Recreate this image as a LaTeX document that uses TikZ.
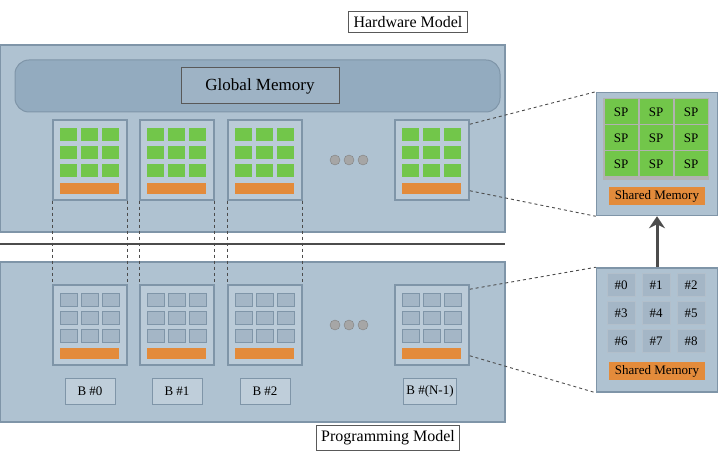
\documentclass[tikz,border=0pt]{standalone}
\usepackage{fontspec}
\setmainfont{Liberation Serif}
\usetikzlibrary{arrows.meta}
\definecolor{panel}{HTML}{AFC2D1}
\definecolor{edge}{HTML}{7F95A8}
\definecolor{bar}{HTML}{93ABBF}
\definecolor{grn}{HTML}{72C64A}
\definecolor{org}{HTML}{E38B3B}
\definecolor{cell}{HTML}{A4B6C6}
\tikzset{
 panel/.style={fill=panel,draw=edge,line width=1.2pt},
 lbl/.style={draw=gray!70!black,fill=white,line width=0.8pt,font=\fontsize{16}{18}\selectfont,inner sep=5pt},
 blk/.style={draw=edge,fill=panel!85!white,line width=1.5pt,minimum width=74pt,minimum height=80pt},
 dline/.style={gray!60!black,dashed,line width=0.9pt},
}
\begin{document}
\begin{tikzpicture}[x=1pt,y=-1pt,font=\fontsize{13}{15}\selectfont]
\useasboundingbox (0,0) rectangle (725,462);
% panels
\draw[panel] (0,45) rectangle (505,232);
\draw[fill=bar,draw=edge,line width=1pt,rounded corners=14pt] (15,60) rectangle (500,112);
\node[draw=gray!70!black,fill=bar!90!white,line width=1pt,font=\fontsize{17}{19}\selectfont,minimum width=158pt,minimum height=36pt] (gm) at (260,86) {Global Memory};
\node[lbl] (hw) at (408,22) {Hardware Model};
\draw[gray!60!black,line width=1.2pt] (0,244) -- (505,244);
\draw[panel] (0,262) rectangle (505,422);
\node[lbl] (pm) at (388,438) {Programming Model};
% blocks
\foreach \n/\x in {0/90,1/177,2/265,3/432}{
  \node[blk] (t\n) at (\x,160) {};
  \node[blk] (b\n) at (\x,325) {};
  \foreach \i in {0,1,2}{\foreach \j in {0,1,2}{
    \fill[grn] (\x-30+\i*21,128+\j*18) rectangle ++(17,13);
    \fill[cell,draw=edge] (\x-30+\i*21,293+\j*18) rectangle ++(17,13);
  }}
  \fill[org] (\x-30,183) rectangle ++(59,11);
  \fill[org] (\x-30,348) rectangle ++(59,11);
}
\foreach \n/\x/\t in {0/90/B \#0,1/177/B \#1,2/265/B \#2,3/430/B \#(N-1)}
  \node[draw=edge,fill=panel!80!white,line width=1pt,minimum height=26pt,minimum width=50pt] (bl\n) at (\x,391) {\t};
% dots
\foreach \d in {0,1,2}\fill[gray!70,draw=gray] (335+\d*14,160) circle (5);
\foreach \d in {0,1,2}\fill[gray!70,draw=gray] (335+\d*14,325) circle (5);
% vertical dashed connectors
\foreach \n in {0,1,2}{
  \draw[dline] (t\n.south west) -- (b\n.north west);
  \draw[dline] (t\n.south east) -- (b\n.north east);
}
% SP box
\node[draw=edge,fill=panel,line width=1.5pt,minimum width=121pt,minimum height=123pt] (sp) at (657,154) {};
\fill[gray!60] (603,98) rectangle (709,180);
\foreach \i in {0,1,2}{\foreach \j in {0,1,2}{
  \node[fill=grn,minimum width=33pt,minimum height=25pt,inner sep=0pt] at (621+\i*35,112+\j*26) {SP};
}}
\node[fill=org,minimum width=96pt,minimum height=18pt,inner sep=0pt] at (657,196) {Shared Memory};
% thread box
\node[draw=edge,fill=panel,line width=1.5pt,minimum width=121pt,minimum height=124pt] (th) at (657,330) {};
\foreach \i in {0,1,2}{\foreach \j in {0,1,2}{
  \pgfmathtruncatemacro\k{\j*3+\i}
  \node[fill=cell,draw=edge!60,minimum width=28pt,minimum height=23pt,inner sep=0pt] at (621+\i*35,285+\j*28) {\#\k};
}}
\node[fill=org,minimum width=96pt,minimum height=18pt,inner sep=0pt] at (657,371) {Shared Memory};
\draw[-{Stealth[length=12pt,width=16pt]},line width=3pt,gray!60!black] (th.north) -- (sp.south);
% zoom dashed lines
\draw[dline] (t3.north east) ++(0,5) -- (sp.north west);
\draw[dline] (t3.south east) ++(0,-10) -- (sp.south west);
\draw[dline] (b3.north east) ++(0,5) -- (th.north west);
\draw[dline] (b3.south east) ++(0,-10) -- (th.south west);
\end{tikzpicture}
\end{document}
